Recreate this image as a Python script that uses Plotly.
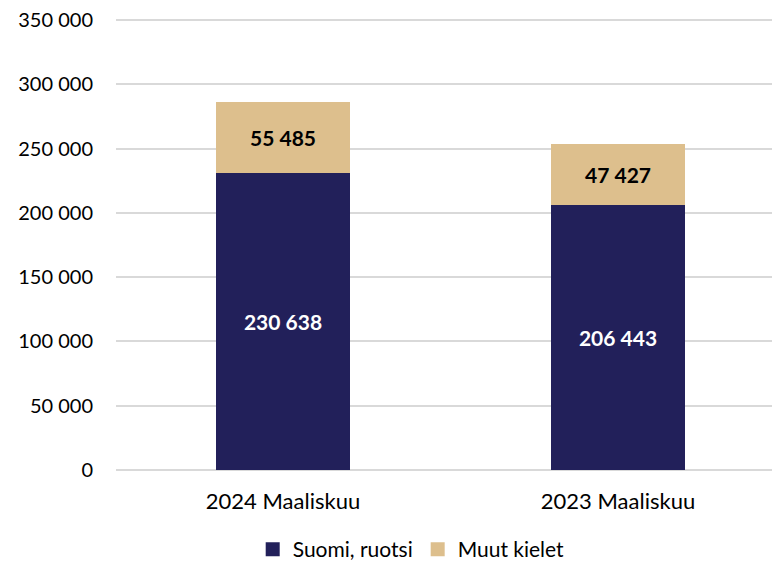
import plotly.graph_objects as go

categories = ["2024 Maaliskuu", "2023 Maaliskuu"]
suomi_ruotsi = [230638, 206443]
muut_kielet = [55485, 47427]
series_names = ["Suomi, ruotsi", "Muut kielet"]
y_ticks = [0, 50000, 100000, 150000, 200000, 250000, 300000, 350000]

NAVY = "#22205A"
TAN = "#DDBF8D"
FONT = "Lato"

fig = go.Figure()
fig.add_trace(go.Bar(
    x=[0, 1], y=suomi_ruotsi, name=series_names[0], showlegend=False,
    marker=dict(color=NAVY, line=dict(width=0)),
    width=0.4,
    texttemplate="<b>%{y:,}</b>", textposition="inside", insidetextanchor="middle",
    textfont=dict(color="white", size=21, family=FONT),
))
fig.add_trace(go.Bar(
    x=[0, 1], y=muut_kielet, name=series_names[1], showlegend=False,
    marker=dict(color=TAN, line=dict(width=0)),
    width=0.4,
    texttemplate="<b>%{y:,}</b>", textposition="inside", insidetextanchor="middle",
    textfont=dict(color="black", size=21, family=FONT),
))
# legend entries with larger square swatches
for nm, col in zip(series_names, [NAVY, TAN]):
    fig.add_trace(go.Scatter(
        x=[None], y=[None], mode="markers", name=nm,
        marker=dict(symbol="square", size=14, color=col),
        hoverinfo="skip",
    ))

# plot area: 452 px tall, 450 px per 350 000
Y_TOP = 350000 * 452 / 450

fig.update_layout(
    barmode="stack",
    width=772, height=564,
    margin=dict(l=116, r=0, t=18, b=94, autoexpand=False),
    paper_bgcolor="white", plot_bgcolor="white",
    separators=", ",
    font=dict(family=FONT, size=20, color="#000000"),
    showlegend=True,
    legend=dict(orientation="h", x=0.45, xanchor="center", y=-0.176, yanchor="middle",
                font=dict(size=21, family=FONT), traceorder="normal",
                itemwidth=30),
    uniformtext=dict(minsize=8, mode="show"),
)
fig.update_xaxes(
    range=[-0.4985, 1.4597], automargin=False,
    tickmode="array", tickvals=[0, 1], ticktext=categories,
    showgrid=False, zeroline=False, showline=False, ticks="",
    ticklabelstandoff=16,
    tickfont=dict(size=22, family=FONT),
)
fig.update_yaxes(
    range=[0, Y_TOP], automargin=False,
    tickmode="array", tickvals=y_ticks, tickformat=",d",
    showgrid=True, gridcolor="#D9D9D9", gridwidth=1.5,
    zeroline=True, zerolinecolor="#D9D9D9", zerolinewidth=1.5,
    showline=False, ticks="", ticklabelstandoff=22, ticklabeloverflow="allow",
    tickfont=dict(size=20, family=FONT),
)

fig.write_html(
    "out.html",
    config={"displayModeBar": False},
    post_script="document.body.style.margin='0px';document.body.style.overflow='hidden';",
)
